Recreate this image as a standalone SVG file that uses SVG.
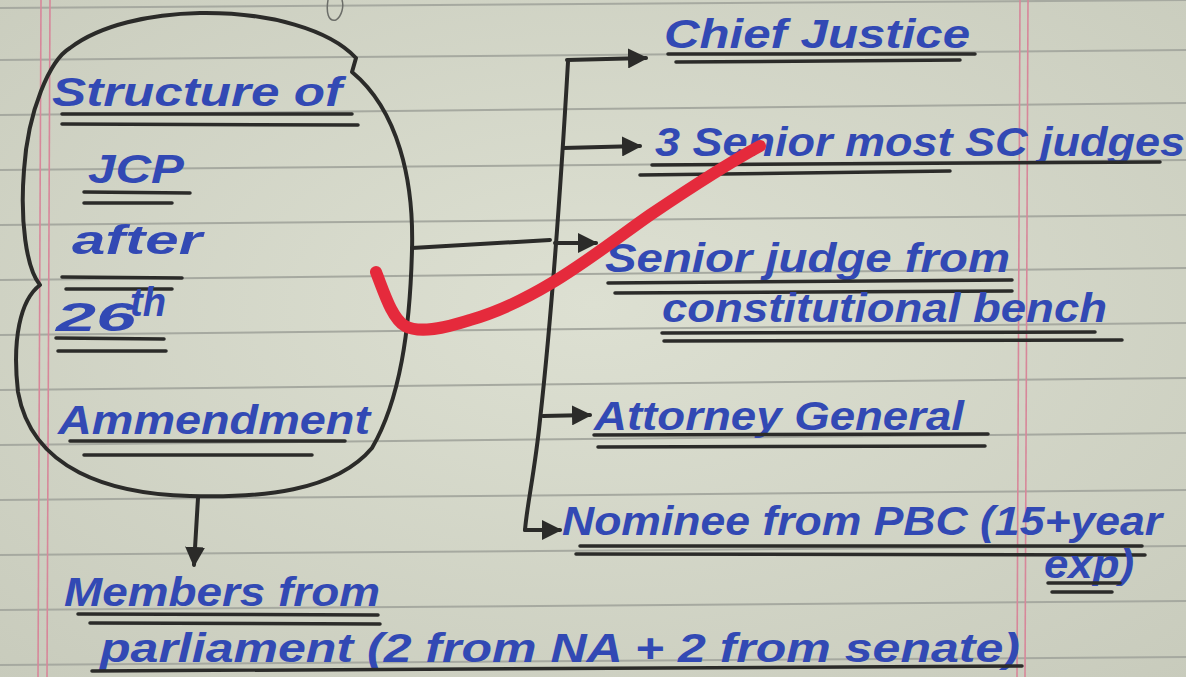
<svg xmlns="http://www.w3.org/2000/svg" width="1186" height="677" viewBox="0 0 1186 677">
<defs>
<style>
.rule{stroke:#a6a9a0;stroke-width:2;fill:none}
.margin{stroke:#d7879a;stroke-width:1.6;fill:none}
.ink{stroke:#2b2b29;stroke-width:4;fill:none;stroke-linecap:round;stroke-linejoin:round}
.ul{stroke:#2b2b29;stroke-width:3.5;fill:none;stroke-linecap:round}
.t{font-family:"Liberation Sans",Arial,sans-serif;font-weight:bold;fill:#3249b4;font-size:40px;font-style:italic}
</style>
<marker id="ah" viewBox="0 0 10 10" refX="9" refY="5" markerWidth="5" markerHeight="5" orient="auto" markerUnits="strokeWidth">
<path d="M0,0 L10,5 L0,10 Z" fill="#2b2b29"/>
</marker>
<radialGradient id="bg" cx="50%" cy="45%" r="75%">
<stop offset="0" stop-color="#dde0d2"/>
<stop offset="1" stop-color="#c8cbbc"/>
</radialGradient>
</defs>
<rect width="1186" height="677" fill="url(#bg)"/>
<g id="paper-lines">
<path class="rule" d="M0,8 L1186,0"/>
<path class="rule" d="M0,60 L1186,50"/>
<path class="rule" d="M0,115 L1186,103"/>
<path class="rule" d="M0,170 L1186,160"/>
<path class="rule" d="M0,225 L1186,215"/>
<path class="rule" d="M0,280 L1186,268"/>
<path class="rule" d="M0,335 L1186,323"/>
<path class="rule" d="M0,390 L1186,378"/>
<path class="rule" d="M0,445 L1186,433"/>
<path class="rule" d="M0,500 L1186,490"/>
<path class="rule" d="M0,555 L1186,546"/>
<path class="rule" d="M0,610 L1186,601"/>
<path class="rule" d="M0,665 L1186,657"/>
<path class="margin" d="M41,0 L38,677"/>
<path class="margin" d="M50,0 L47,677"/>
<path class="margin" d="M1020,0 L1017,677"/>
<path class="margin" d="M1028,0 L1025,677"/>
<path d="M328,0 C326,12 328,22 336,20 C342,16 344,6 342,0" fill="none" stroke="#6b6d68" stroke-width="1.5"/>
</g>
<g id="jcp">
<path class="ink" d="M200,13 C270,12 330,30 356,58 L352,72 C398,110 414,180 412,250 C410,330 400,400 372,448 C335,492 260,498 190,496 C110,494 32,470 18,392 C12,340 20,300 40,285 C26,268 20,220 24,170 C28,110 50,60 70,48 C100,25 150,14 200,13 Z"/>
<text class="t" x="52" y="106" textLength="290" lengthAdjust="spacingAndGlyphs">Structure of</text>
<path class="ul" d="M62,114 L352,114 M62,124 L358,125"/>
<text class="t" x="88" y="183" textLength="96" lengthAdjust="spacingAndGlyphs">JCP</text>
<path class="ul" d="M84,192 L190,193 M84,203 L172,203"/>
<text class="t" x="72" y="254" textLength="130" lengthAdjust="spacingAndGlyphs">after</text>
<path class="ul" d="M62,277 L182,278 M66,289 L172,289"/>
<text class="t" x="56" y="331" font-size="34" textLength="80" lengthAdjust="spacingAndGlyphs">26</text>
<text class="t" x="130" y="316" font-size="22" textLength="36" lengthAdjust="spacingAndGlyphs">th</text>
<path class="ul" d="M56,338 L164,339 M58,351 L166,351"/>
<text class="t" x="58" y="434" textLength="312" lengthAdjust="spacingAndGlyphs">Ammendment</text>
<path class="ul" d="M70,441 L345,441 M84,455 L312,455"/>
</g>
<g id="connectors">
<path class="ink" d="M412,248 L550,240"/>
<path class="ink" d="M568,62 C560,200 550,330 540,420 C535,470 527,505 525,530"/>
<path class="ink" d="M567,60 L646,58" marker-end="url(#ah)"/>
<path class="ink" d="M563,148 L640,146" marker-end="url(#ah)"/>
<path class="ink" d="M555,243 L596,243" marker-end="url(#ah)"/>
<path class="ink" d="M543,416 L590,415" marker-end="url(#ah)"/>
<path class="ink" d="M525,530 L560,530" marker-end="url(#ah)"/>
<path class="ink" d="M198,498 L194,565" marker-end="url(#ah)"/>
</g>
<g id="chief-justice">
<text class="t" x="664" y="48" textLength="306" lengthAdjust="spacingAndGlyphs">Chief Justice</text>
<path class="ul" d="M668,54 L975,54 M676,62 L960,60"/>
</g>
<g id="senior-most">
<text class="t" x="655" y="156" textLength="530" lengthAdjust="spacingAndGlyphs">3 Senior most SC judges</text>
<path class="ul" d="M652,165 L1160,162 M640,175 L950,171"/>
</g>
<g id="senior-judge">
<text class="t" x="605" y="272" textLength="405" lengthAdjust="spacingAndGlyphs">Senior judge from</text>
<path class="ul" d="M608,283 L1012,280 M615,293 L1012,291"/>
<text class="t" x="662" y="322" textLength="445" lengthAdjust="spacingAndGlyphs">constitutional bench</text>
<path class="ul" d="M662,333 L1095,332 M664,341 L1122,340"/>
</g>
<g id="attorney-general">
<text class="t" x="594" y="430" textLength="370" lengthAdjust="spacingAndGlyphs">Attorney General</text>
<path class="ul" d="M594,435 L988,434 M598,447 L985,446"/>
</g>
<g id="pbc">
<text class="t" x="562" y="535" textLength="600" lengthAdjust="spacingAndGlyphs">Nominee from PBC (15+year</text>
<path class="ul" d="M580,546 L1142,546 M576,554 L1145,555"/>
<text class="t" x="1044" y="578" font-size="30" textLength="90" lengthAdjust="spacingAndGlyphs">exp)</text>
<path class="ul" d="M1048,583 L1120,583 M1052,592 L1112,592"/>
</g>
<g id="parliament">
<text class="t" x="64" y="606" textLength="316" lengthAdjust="spacingAndGlyphs">Members from</text>
<path class="ul" d="M78,614 L378,615 M90,623 L380,624"/>
<text class="t" x="100" y="662" textLength="920" lengthAdjust="spacingAndGlyphs">parliament (2 from NA + 2 from senate)</text>
<path class="ul" d="M92,671 L1022,666"/>
</g>
<g id="checkmark">
<path d="M376,272 C385,295 392,318 405,326 C420,334 445,328 470,320 C540,300 600,250 650,215 C690,188 725,165 760,146" fill="none" stroke="#e52a3c" stroke-width="12" stroke-linecap="round" stroke-linejoin="round"/>
</g>
</svg>
